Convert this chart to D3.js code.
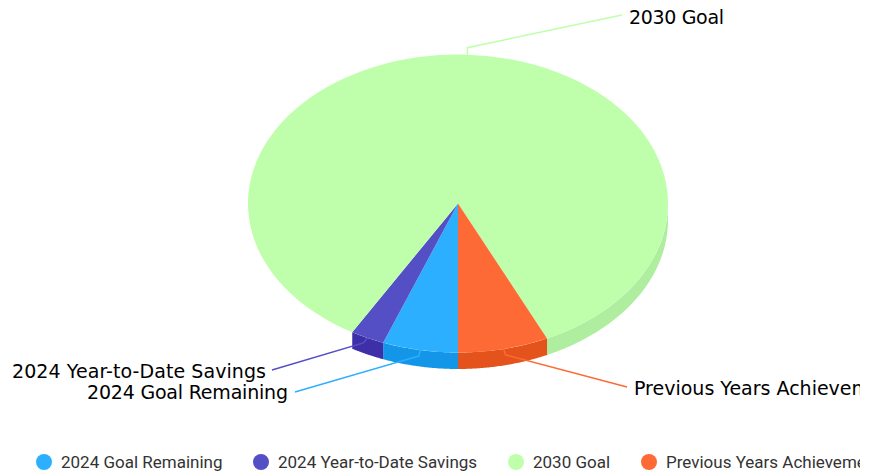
<!DOCTYPE html>
<html><head><meta charset="utf-8">
<script src="https://cdn.jsdelivr.net/npm/d3@7/dist/d3.min.js"></script>
<style>html,body{margin:0;padding:0;background:#fff}svg{display:block}</style>
</head><body><svg id="c" width="880" height="475"></svg>
<script>
const categories = ["2024 Goal Remaining","2024 Year-to-Date Savings","2030 Goal","Previous Years Achievement"];
const values = [5.8,2.6,84.63,6.97];
const topColors = ["#2caffe","#544fc5","#bfffab","#fe6a35"];
const sideColors = ["#1496e8","#3d2fa8","#aeee9e","#e5531c"];

const W=880,H=475,cx=458,cy=203.5,rx=210,ry=149,depth=16.5;
const svg=d3.select("#c");
const defs=svg.append("defs");
defs.append("clipPath").attr("id","clip").append("rect").attr("width",860).attr("height",H);

const color=d3.scaleOrdinal(categories,topColors);
const side=d3.scaleOrdinal(categories,sideColors);
const pie=d3.pie().value((d,i)=>values[i]).sort(null).startAngle(Math.PI).endAngle(3*Math.PI);
const arcs=pie(categories);
const arc=d3.arc().innerRadius(0).outerRadius(rx);
const px=a=>cx+rx*Math.sin(a), py=a=>cy-ry*Math.cos(a);

// side walls: the visible part of each slice's rim
const walls=svg.append("g");
arcs.forEach(d=>{
  let a0=d.startAngle,a1=d.endAngle;
  if(d.data===categories[2]){a0=d.endAngle;a1=2*Math.PI+Math.PI/2;} // right-hand rim only
  const lo=Math.min(a0,a1),hi=Math.max(a0,a1);
  const ang=d3.range(0,61).map(i=>lo+(hi-lo)*i/60);
  const pts=ang.map(a=>[px(a),py(a)]).concat(ang.slice().reverse().map(a=>[px(a),py(a)+depth]));
  walls.append("path").attr("d",d3.line()(pts)+"Z").attr("fill",side(d.data));
});
// top faces
svg.append("g").attr("transform",`translate(${cx},${cy}) scale(1,${ry/rx})`)
  .selectAll("path").data(arcs).join("path")
  .attr("d",arc).attr("fill",d=>color(d.data));

// labels and connectors
const labelLayout=[
 {tx:288,ty:399,anchor:"end",ex:295,ey:392,dx:-1,dy:6,len:201},
 {tx:266,ty:378,anchor:"end",ex:272,ey:370,dx:-4,dy:5,len:254},
 {tx:629,ty:24,anchor:"start",ex:622,ey:15,dx:0,dy:-7,len:95},
 {tx:634,ty:395,anchor:"start",ex:627,ey:387,dx:2,dy:6,len:null}
];
const lab=svg.append("g").attr("clip-path","url(#clip)");
arcs.forEach((d,i)=>{
  const m=(d.startAngle+d.endAngle)/2,L=labelLayout[i];
  const x0=px(m),y0=py(m);
  lab.append("path").attr("fill","none").attr("stroke",color(d.data)).attr("stroke-width",1.5)
    .attr("d",d3.line()([[x0,y0],[x0+L.dx,y0+L.dy],[L.ex,L.ey]]));
  const t=lab.append("text").attr("x",L.tx).attr("y",L.ty).attr("text-anchor",L.anchor)
    .attr("font-family","'DejaVu Sans'").attr("font-size",19).attr("fill","#000").text(d.data);
  if(L.len) t.attr("textLength",L.len).attr("lengthAdjust","spacing");
});

// legend
const legendX=[44,261,516,649];
const leg=svg.append("g").attr("clip-path","url(#clip)");
categories.forEach((c,i)=>{
  leg.append("circle").attr("cx",legendX[i]).attr("cy",462).attr("r",8).attr("fill",color(c));
  leg.append("text").attr("x",legendX[i]+17).attr("y",468).attr("font-family","Roboto").attr("font-size",17).attr("fill","#333").text(c);
});
</script></body></html>
